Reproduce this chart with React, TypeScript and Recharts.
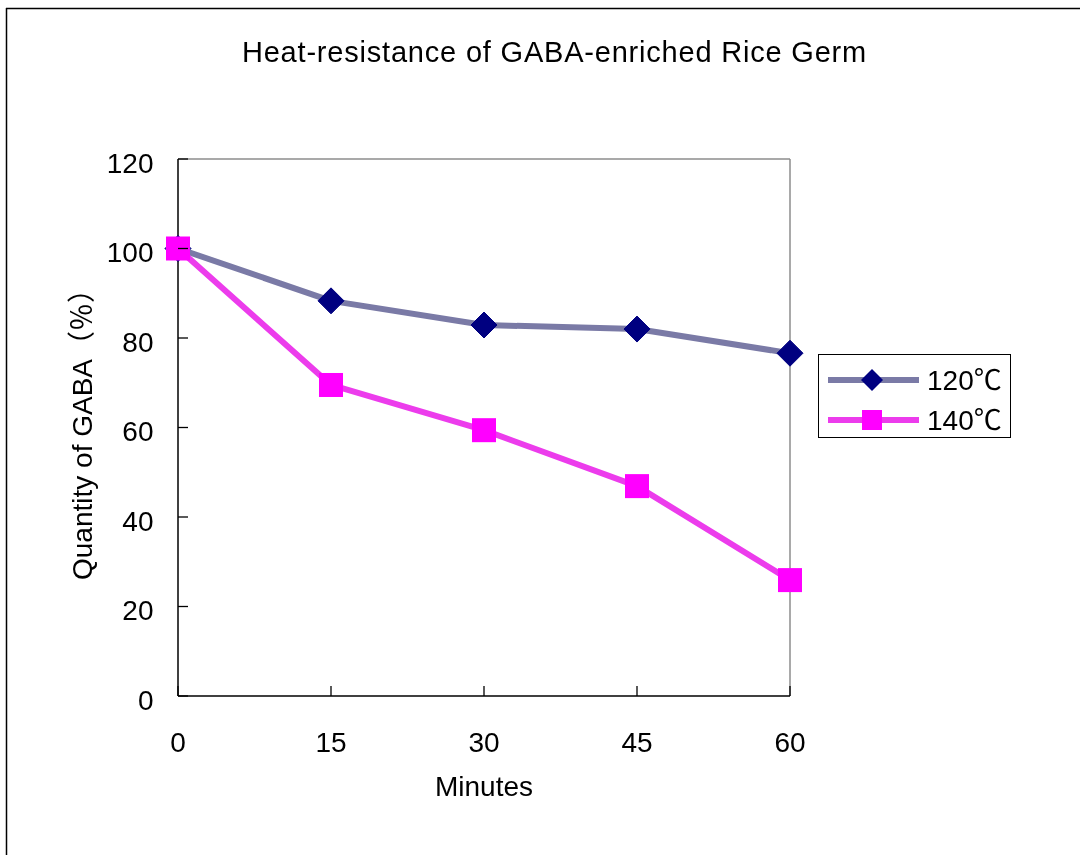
import React, { useEffect } from 'react';
import { LineChart, Line, XAxis, YAxis, ReferenceLine } from 'recharts';

const minutes = [0, 15, 30, 45, 60];
const series120 = [100, 88.3, 82.9, 82.0, 76.6];
const series140 = [100, 69.5, 59.4, 46.9, 25.9];
const xTicks = [0, 15, 30, 45, 60];
const yTicks = [0, 20, 40, 60, 80, 100, 120];
const seriesNames = ['120℃', '140℃'];

const data = minutes.map((m, i) => ({ m, s120: series120[i], s140: series140[i] }));

const FONT = '"Liberation Sans", "Noto Sans CJK JP", Arial, sans-serif';
const C120_LINE = '#7a7aa6';
const C120_DOT = '#000080';
const C140_LINE = '#ec3cec';
const C140_DOT = '#ff00ff';

const Diamond = (props: any) => {
  const { cx, cy } = props;
  const r = 13;
  if (cx == null || cy == null) return null;
  return (
    <polygon
      points={`${cx},${cy - r} ${cx + r},${cy} ${cx},${cy + r} ${cx - r},${cy}`}
      fill={C120_DOT}
      stroke={C120_DOT}
    />
  );
};

const Square = (props: any) => {
  const { cx, cy } = props;
  const s = 24;
  if (cx == null || cy == null) return null;
  return <rect x={cx - s / 2} y={cy - s / 2} width={s} height={s} fill={C140_DOT} />;
};

const YTick = (props: any) => {
  const { x, y, payload } = props;
  return (
    <g>
      <line x1={x} y1={y} x2={x + 10} y2={y} stroke="#000" strokeWidth={1.3} />
      <text x={x - 24.5} y={y + 13.5} textAnchor="end" fontSize={28} fontFamily={FONT} fill="#000">
        {payload.value}
      </text>
    </g>
  );
};

const XTick = (props: any) => {
  const { x, y, payload } = props;
  return (
    <g>
      <line x1={x} y1={y} x2={x} y2={y - 10} stroke="#000" strokeWidth={1.3} />
      <text x={x} y={y + 56} textAnchor="middle" fontSize={28} fontFamily={FONT} fill="#000">
        {payload.value}
      </text>
    </g>
  );
};

const XLabel = (props: any) => {
  const vb = props.viewBox || {};
  return (
    <text x={vb.x + vb.width / 2} y={vb.y + 100} textAnchor="middle" fontSize={28} fontFamily={FONT} fill="#000">
      Minutes
    </text>
  );
};

const YLabel = (props: any) => {
  const vb = props.viewBox || {};
  const cx = vb.x + vb.width - 96;
  const cy = vb.y + vb.height / 2;
  return (
    <text
      x={cx}
      y={cy}
      transform={`rotate(-90 ${cx} ${cy})`}
      textAnchor="middle"
      dominantBaseline="central"
      fontSize={28}
      fontFamily={FONT}
      fill="#000"
    >
      Quantity of GABA（％）
    </text>
  );
};

export default function App() {
  useEffect(() => {
    document.documentElement.style.overflow = 'hidden';
    document.body.style.overflow = 'hidden';
  }, []);
  return (
    <div style={{ position: 'relative', width: 1072, height: 839 }}>
      <svg
        style={{ position: 'fixed', left: 0, top: 0, pointerEvents: 'none' }}
        width={1080}
        height={855}
      >
        <line x1={6.5} y1={8} x2={6.5} y2={855} stroke="#000" strokeWidth={1.5} />
        <line x1={6} y1={8.5} x2={1080} y2={8.5} stroke="#000" strokeWidth={1.5} />
      </svg>
      <svg style={{ position: 'absolute', left: 0, top: 0 }} width={1072} height={100}>
        <text x={546.5} y={53.7} textAnchor="middle" fontSize={29} letterSpacing={0.8} fontFamily={FONT} fill="#000">
          Heat-resistance of GABA-enriched Rice Germ
        </text>
      </svg>
      <div style={{ position: 'absolute', left: 0, top: 0 }}>
        <LineChart width={1072} height={839} data={data} margin={{ top: 151, right: 290, bottom: 121, left: 110 }}>
          <ReferenceLine y={120} stroke="#8c8c8c" strokeWidth={1.5} />
          <ReferenceLine x={60} stroke="#8c8c8c" strokeWidth={1.5} />
          <XAxis
            dataKey="m"
            type="number"
            domain={[0, 60]}
            ticks={xTicks}
            height={30}
            tickSize={0}
            tickMargin={0}
            tickLine={false}
            axisLine={{ stroke: '#000', strokeWidth: 1.5 }}
            tick={<XTick />}
            label={<XLabel />}
            interval={0}
          />
          <YAxis
            type="number"
            domain={[0, 120]}
            ticks={yTicks}
            width={60}
            tickSize={0}
            tickMargin={0}
            tickLine={false}
            axisLine={{ stroke: '#000', strokeWidth: 1.5 }}
            tick={<YTick />}
            label={<YLabel />}
            interval={0}
          />
          <Line
            type="linear"
            dataKey="s120"
            stroke={C120_LINE}
            strokeWidth={6}
            strokeLinejoin="round"
            dot={<Diamond />}
            activeDot={false}
            isAnimationActive={false}
          />
          <Line
            type="linear"
            dataKey="s140"
            stroke={C140_LINE}
            strokeWidth={6}
            strokeLinejoin="round"
            dot={<Square />}
            activeDot={false}
            isAnimationActive={false}
          />
        </LineChart>
      </div>
      <div
        style={{
          position: 'absolute',
          left: 810,
          top: 346,
          width: 193,
          height: 84,
          border: '1px solid #000',
          boxSizing: 'border-box',
          background: '#fff',
        }}
      >
        <svg width={191} height={82} style={{ display: 'block' }}>
          <line x1={9} y1={25} x2={100} y2={25} stroke={C120_LINE} strokeWidth={6} />
          <polygon points="53,14 64,25 53,36 42,25" fill={C120_DOT} />
          <text x={108} y={35} fontSize={28} fontFamily={FONT} fill="#000">
            {seriesNames[0]}
          </text>
          <line x1={9} y1={65} x2={100} y2={65} stroke={C140_LINE} strokeWidth={6} />
          <rect x={43} y={55} width={20} height={20} fill={C140_DOT} />
          <text x={108} y={75} fontSize={28} fontFamily={FONT} fill="#000">
            {seriesNames[1]}
          </text>
        </svg>
      </div>
    </div>
  );
}
